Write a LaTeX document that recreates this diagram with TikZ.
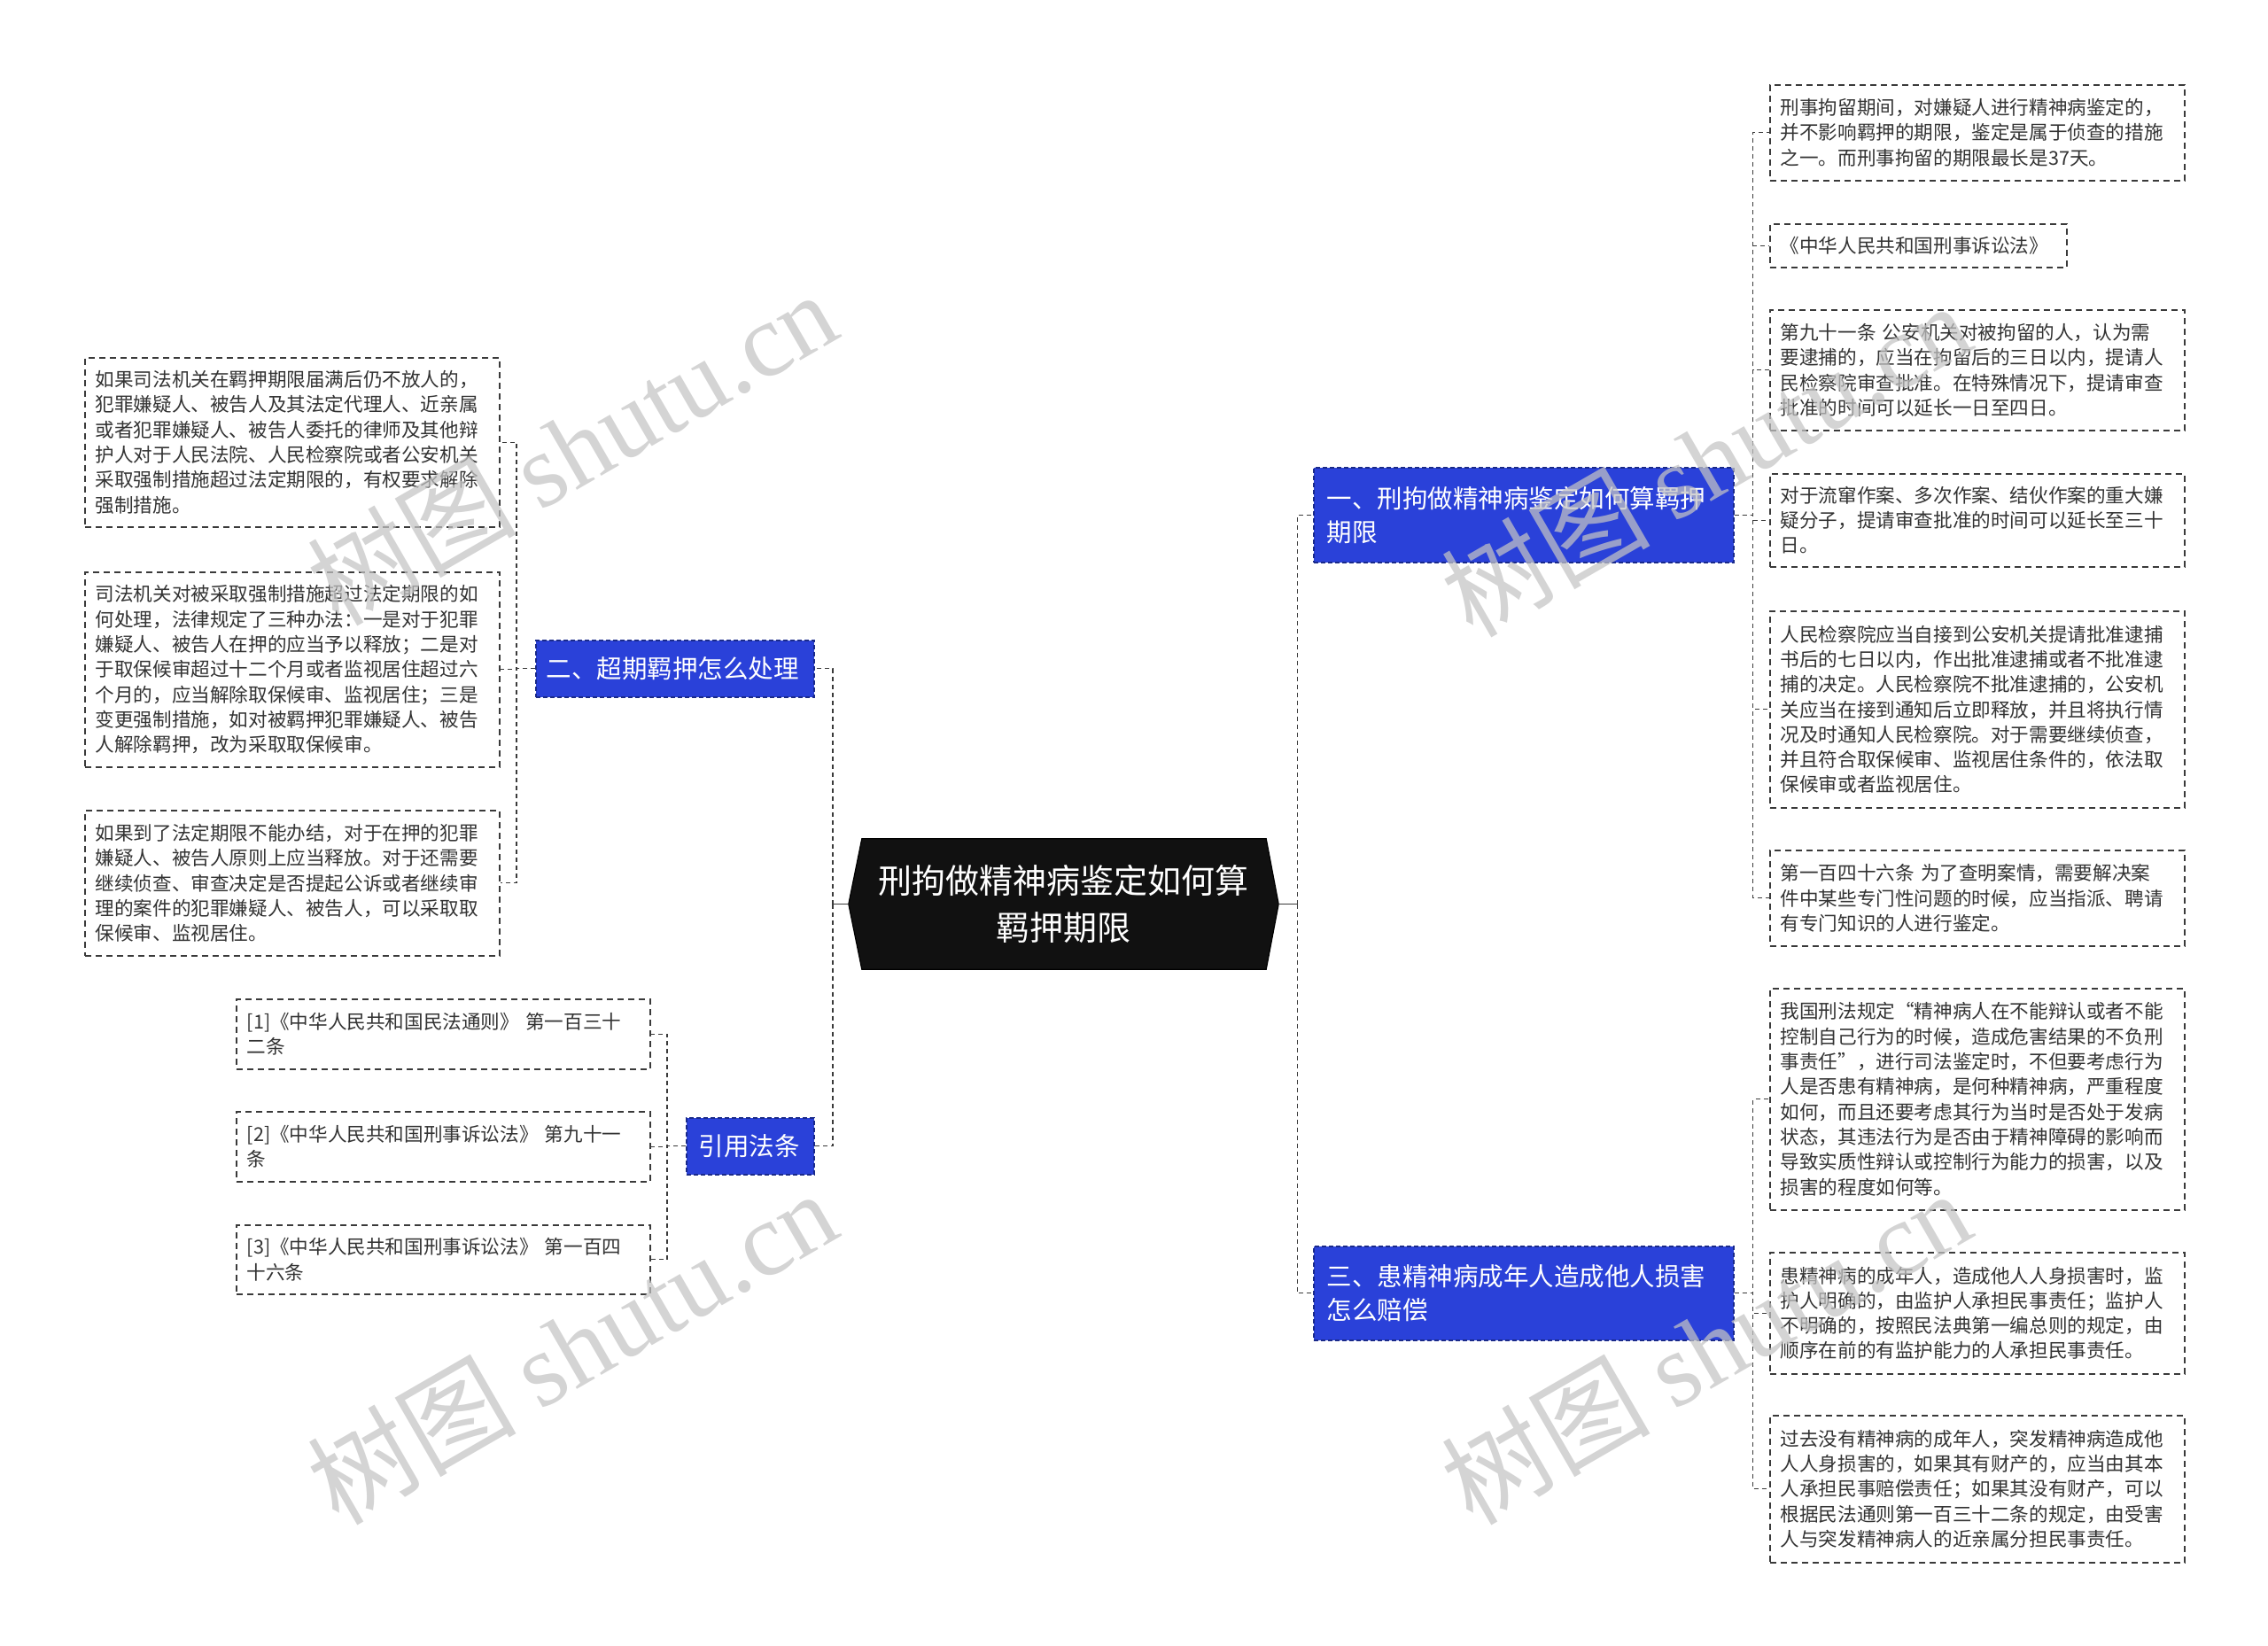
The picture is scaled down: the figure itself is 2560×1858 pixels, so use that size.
\documentclass[tikz,border=0pt]{standalone}
\usepackage{fontspec}
\setmainfont{Noto Sans CJK SC}
\newfontfamily\wmlatin{Liberation Serif}
\usetikzlibrary{backgrounds}
\definecolor{nodeblue}{HTML}{2A41D9}
\definecolor{blueedge}{HTML}{1A2A8A}
\definecolor{leaftext}{HTML}{333333}
\definecolor{edgegray}{HTML}{3A3A3A}
\definecolor{wmgray}{HTML}{C4C4C4}
\definecolor{centerfill}{HTML}{111111}
\begin{document}
\begin{tikzpicture}[x=1pt,y=-1pt,
  leaf/.style={draw=edgegray, line width=1.5pt, dash pattern=on 7pt off 5pt,
    anchor=north west, inner xsep=12pt, inner ysep=0pt, align=left,
    text=leaftext, font=\fontsize{21.6}{28.3}\selectfont},
  bluebox/.style={draw=blueedge, fill=nodeblue, line width=1.5pt, dash pattern=on 5pt off 3pt,
    anchor=north west, inner xsep=15pt, inner ysep=0pt, align=left,
    text=white, font=\fontsize{28.5}{38}\selectfont},
  centerbox/.style={inner sep=0pt, minimum width=485pt, minimum height=147pt,
    text width=460pt, align=center, text=white, font=\fontsize{38}{53}\selectfont},
  conn/.style={draw=edgegray, line width=1.4pt, dash pattern=on 5pt off 4pt},
  stub/.style={draw=edgegray, line width=1.6pt},
  wm/.style={text=wmgray, opacity=0.72, font=\fontsize{118}{118}\selectfont, inner sep=0pt}
]
\useasboundingbox (0,0) rectangle (2560,1858);

% central node
\node[centerbox] (c) at (1200.5,1020.5) {刑拘做精神病鉴定如何算\\羁押期限};
\begin{scope}[on background layer]
  \fill[white] (0,0) rectangle (2560,1858);
  \filldraw[fill=centerfill, draw=black, line width=1.2pt]
    (c.west) -- ([xshift=15pt]c.north west) -- ([xshift=-14pt]c.north east) -- (c.east)
    -- ([xshift=-14pt]c.south east) -- ([xshift=15pt]c.south west) -- cycle;
\end{scope}

% level 1 nodes
\node[bluebox, text width=444pt, minimum height=107pt] (n1) at (1482,527) {一、刑拘做精神病鉴定如何算羁押\\期限};
\node[bluebox, text width=444pt, minimum height=106pt] (n3) at (1482,1406) {三、患精神病成年人造成他人损害\\怎么赔偿};
\node[bluebox, inner xsep=12pt, text width=290pt, minimum height=64pt] (n2) at (604,722) {二、超期羁押怎么处理};
\node[bluebox, inner xsep=14pt, text width=116pt, minimum height=64pt] (n4) at (774,1261) {引用法条};

% right leaves of n1
\node[leaf, text width=444pt, minimum height=108pt] (b1) at (1997,95) {刑事拘留期间，对嫌疑人进行精神病鉴定的，\\并不影响羁押的期限，鉴定是属于侦查的措施\\之一。而刑事拘留的期限最长是37天。};
\node[leaf, text width=311pt, minimum height=49pt] (b2) at (1997,252) {《中华人民共和国刑事诉讼法》};
\node[leaf, text width=444pt, minimum height=136pt] (b3) at (1997,349) {第九十一条 公安机关对被拘留的人，认为需\\要逮捕的，应当在拘留后的三日以内，提请人\\民检察院审查批准。在特殊情况下，提请审查\\批准的时间可以延长一日至四日。};
\node[leaf, text width=444pt, minimum height=105pt] (b4) at (1997,534) {对于流窜作案、多次作案、结伙作案的重大嫌\\疑分子，提请审查批准的时间可以延长至三十\\日。};
\node[leaf, text width=444pt, minimum height=222pt] (b5) at (1997,689) {人民检察院应当自接到公安机关提请批准逮捕\\书后的七日以内，作出批准逮捕或者不批准逮\\捕的决定。人民检察院不批准逮捕的，公安机\\关应当在接到通知后立即释放，并且将执行情\\况及时通知人民检察院。对于需要继续侦查，\\并且符合取保候审、监视居住条件的，依法取\\保候审或者监视居住。};
\node[leaf, text width=444pt, minimum height=108pt] (b6) at (1997,959) {第一百四十六条 为了查明案情，需要解决案\\件中某些专门性问题的时候，应当指派、聘请\\有专门知识的人进行鉴定。};

% right leaves of n3
\node[leaf, text width=444pt, minimum height=250pt] (b7) at (1997,1115) {我国刑法规定“精神病人在不能辩认或者不能\\控制自己行为的时候，造成危害结果的不负刑\\事责任”，进行司法鉴定时，不但要考虑行为\\人是否患有精神病，是何种精神病，严重程度\\如何，而且还要考虑其行为当时是否处于发病\\状态，其违法行为是否由于精神障碍的影响而\\导致实质性辩认或控制行为能力的损害，以及\\损害的程度如何等。};
\node[leaf, text width=444pt, minimum height=137pt] (b8) at (1997,1413) {患精神病的成年人，造成他人人身损害时，监\\护人明确的，由监护人承担民事责任；监护人\\不明确的，按照民法典第一编总则的规定，由\\顺序在前的有监护能力的人承担民事责任。};
\node[leaf, text width=444pt, minimum height=166pt] (b9) at (1997,1597) {过去没有精神病的成年人，突发精神病造成他\\人人身损害的，如果其有财产的，应当由其本\\人承担民事赔偿责任；如果其没有财产，可以\\根据民法通则第一百三十二条的规定，由受害\\人与突发精神病人的近亲属分担民事责任。};

% left leaves of n2
\node[leaf, text width=444pt, minimum height=191pt] (l1) at (95,403) {如果司法机关在羁押期限届满后仍不放人的，\\犯罪嫌疑人、被告人及其法定代理人、近亲属\\或者犯罪嫌疑人、被告人委托的律师及其他辩\\护人对于人民法院、人民检察院或者公安机关\\采取强制措施超过法定期限的，有权要求解除\\强制措施。};
\node[leaf, text width=444pt, minimum height=220pt] (l2) at (95,645) {司法机关对被采取强制措施超过法定期限的如\\何处理，法律规定了三种办法：一是对于犯罪\\嫌疑人、被告人在押的应当予以释放；二是对\\于取保候审超过十二个月或者监视居住超过六\\个月的，应当解除取保候审、监视居住；三是\\变更强制措施，如对被羁押犯罪嫌疑人、被告\\人解除羁押，改为采取取保候审。};
\node[leaf, text width=444pt, minimum height=164pt] (l3) at (95,914) {如果到了法定期限不能办结，对于在押的犯罪\\嫌疑人、被告人原则上应当释放。对于还需要\\继续侦查、审查决定是否提起公诉或者继续审\\理的案件的犯罪嫌疑人、被告人，可以采取取\\保候审、监视居住。};

% left leaves of n4
\node[leaf, text width=443pt, minimum height=79pt] (r1) at (266,1127) {[1]《中华人民共和国民法通则》 第一百三十\\二条};
\node[leaf, text width=443pt, minimum height=79pt] (r2) at (266,1254) {[2]《中华人民共和国刑事诉讼法》 第九十一\\条};
\node[leaf, text width=443pt, minimum height=78pt] (r3) at (266,1382) {[3]《中华人民共和国刑事诉讼法》 第一百四\\十六条};

% connectors
\draw[stub] (c.east) -- ([xshift=21pt]c.east);
\draw[conn] ([xshift=21pt]c.east) |- (n1.west);
\draw[conn] ([xshift=21pt]c.east) |- (n3.west);
\draw[stub] (c.west) -- ([xshift=-18pt]c.west);
\draw[conn] ([xshift=-18pt]c.west) |- (n2.east);
\draw[conn] ([xshift=-18pt]c.west) |- (n4.east);

\foreach \k in {b1,b2,b3,b4,b5,b6}
  \draw[conn] (n1.east) -- ([xshift=21pt]n1.east) |- (\k.west);
\foreach \k in {b7,b8,b9}
  \draw[conn] (n3.east) -- ([xshift=21pt]n3.east) |- (\k.west);
\foreach \k in {l1,l2,l3}
  \draw[conn] (n2.west) -- ([xshift=-21pt]n2.west) |- (\k.east);
\foreach \k in {r1,r2,r3}
  \draw[conn] (n4.west) -- ([xshift=-21pt]n4.west) |- (\k.east);

% watermarks
\node[wm, rotate=30] (wm1) at (645,505) {树图 {\wmlatin shutu.cn}};
\node[wm, rotate=30] (wm2) at (645,1520) {树图 {\wmlatin shutu.cn}};
\node[wm, rotate=30] (wm3) at (1925,518) {树图 {\wmlatin shutu.cn}};
\node[wm, rotate=30] (wm4) at (1925,1520) {树图 {\wmlatin shutu.cn}};
\end{tikzpicture}
\end{document}
